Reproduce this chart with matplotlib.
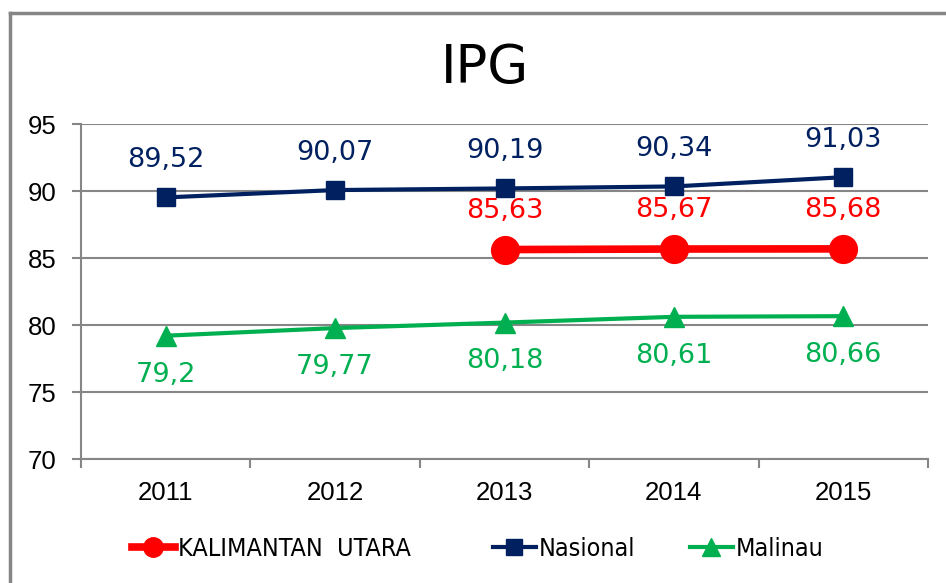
import matplotlib
matplotlib.use('Agg')
import matplotlib.pyplot as plt
from matplotlib.lines import Line2D
from matplotlib import font_manager as fm

years = ['2011', '2012', '2013', '2014', '2015']
kaltara = [None, None, 85.63, 85.67, 85.68]
nasional = [89.52, 90.07, 90.19, 90.34, 91.03]
malinau = [79.2, 79.77, 80.18, 80.61, 80.66]
legend_labels = ['KALIMANTAN  UTARA', 'Nasional', 'Malinau']

red = '#FF0000'
navy = '#002060'
green = '#00B050'
grey = '#868686'

# legend font in the original is a narrow face; use a condensed one if present
cond = fm.FontProperties(family='DejaVu Sans', stretch='condensed', size=18)
if 'Condensed' in fm.findfont(cond):
    leg_prop = cond
else:
    leg_prop = fm.FontProperties(family='Liberation Sans', size=17)

fig = plt.figure(figsize=(9.46, 5.83), dpi=100)
ax = fig.add_axes([81 / 946, 1 - 459 / 583, 847 / 946, 335 / 583])

x = list(range(len(years)))

# lines
kx = [i for i, v in enumerate(kaltara) if v is not None]
ky = [v for v in kaltara if v is not None]
ax.plot(x, nasional, color=navy, lw=3, marker='s', ms=13, zorder=4)
ax.plot(kx, ky, color=red, lw=5.5, marker='o', ms=20, zorder=5)
ax.plot(x, malinau, color=green, lw=3, marker='^', ms=14, zorder=4)

# data labels
lab_font = dict(fontsize=19.5, family='DejaVu Sans', ha='center')
for i, v in enumerate(nasional):
    ax.annotate(f'{v:g}'.replace('.', ','), (i, v), xytext=(0, 27),
                textcoords='offset points', va='center', color=navy, **lab_font)
for i, v in zip(kx, ky):
    ax.annotate(f'{v:g}'.replace('.', ','), (i, v), xytext=(0, 28),
                textcoords='offset points', va='center', color=red, **lab_font)
for i, v in enumerate(malinau):
    ax.annotate(f'{v:g}'.replace('.', ','), (i, v), xytext=(0, -28),
                textcoords='offset points', va='center', color=green, **lab_font)

ax.set_xlim(-0.5, len(years) - 0.5)
ax.set_ylim(70, 95)
ax.set_yticks(range(70, 96, 5))
ax.set_xticks(x)
ax.set_xticklabels(years)
ax.set_xticks([i - 0.5 for i in range(len(years) + 1)], minor=True)

ax.grid(axis='y', color=grey, lw=1.5)
ax.set_axisbelow(True)
for s in ['top', 'right']:
    ax.spines[s].set_visible(False)
for s in ['left', 'bottom']:
    ax.spines[s].set_color(grey)
    ax.spines[s].set_linewidth(1.5)

ax.tick_params(axis='y', length=6.5, width=1.5, color=grey, pad=11,
               labelsize=18.5, labelfontfamily='Liberation Sans')
ax.tick_params(axis='x', which='major', length=0, pad=16,
               labelsize=18.5, labelfontfamily='Liberation Sans')
ax.tick_params(axis='x', which='minor', length=6.5, width=1.5, color=grey)

fig.text(485 / 946, 1 - 68 / 583, 'IPG', fontsize=38, family='DejaVu Sans',
         ha='center', va='center')

# legend: one entry per box so each sits where it does in the original
handles = [
    Line2D([], [], color=red, lw=5.5, marker='o', ms=14),
    Line2D([], [], color=navy, lw=3, marker='s', ms=12),
    Line2D([], [], color=green, lw=3, marker='^', ms=13),
]
leg_x = [132, 493, 690]
for h, lab, lx in zip(handles, legend_labels, leg_x):
    fig.legend([h], [lab], loc='center left',
               bbox_to_anchor=(lx / 946, 1 - 549 / 583),
               frameon=False, borderpad=0, borderaxespad=0,
               handlelength=1.7, handletextpad=0.12, prop=leg_prop)

# outer frame (partially cropped)
fig.add_artist(Line2D([10 / 946, 10 / 946], [0, 1 - 13 / 583], color=grey, lw=2.5,
                      transform=fig.transFigure))
fig.add_artist(Line2D([10 / 946, 1], [1 - 13 / 583, 1 - 13 / 583], color=grey, lw=2.5,
                      transform=fig.transFigure))

fig.savefig('out.png', dpi=100)
